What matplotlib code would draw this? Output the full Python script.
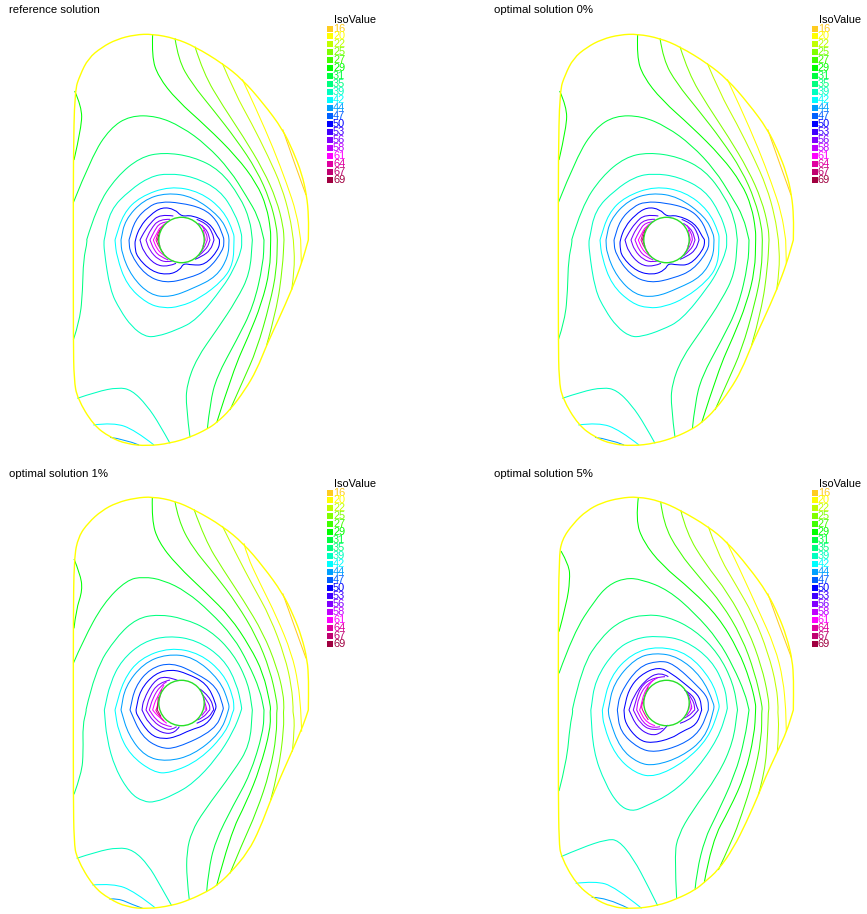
# Four panels of iso-value contours
import matplotlib
matplotlib.use('Agg')
from matplotlib import pyplot as plt
from matplotlib.patches import Circle, PathPatch, Rectangle
from matplotlib.path import Path

plt.rcParams['font.family'] = ['Liberation Sans', 'DejaVu Sans']

levels = [16, 20, 22, 25, 27, 29, 31, 35, 39, 42, 44, 47, 50, 53, 56, 58, 61, 64, 67, 69]
colors = ['#ffcc20', '#ffff00', '#c0ff00', '#80ff00', '#40ff00', '#00ff00', '#00ff40',
          '#00ff80', '#00ffc0', '#00ffff', '#00a0ff', '#0060ff', '#0000ff', '#4000ff',
          '#8000ff', '#c000ff', '#ff00ff', '#e000a0', '#c00070', '#a00040']
titles = ['reference solution', 'optimal solution 0%', 'optimal solution 1%', 'optimal solution 5%']

# contours are (level, upper part, lower part), values are in thirds of a pixel
# measured from the corner of the upper and lower crop of each panel
ref_boundary = ([(40,660),(40,420),(44,213),(60,165),(85,115),(125,82),(170,58),(225,44),(278,42),(345,55),(405,80),(487,130),(547,178),(610,250),(668,328),(700,395),(725,460),(740,525),(746,590),(745,660)],
                [(745,30),(725,100),(695,180),(655,270),(620,345),(590,420),(555,480),(510,540),(470,578),(442,597),(390,622),(330,640),(262,648),(200,642),(150,622),(100,585),(52,505),(42,450),(40,330),(40,30)])
ref_open = [
    (16, [(668,328),(700,420),(738,525)], []),
    (20, [(547,178),(590,270),(640,385),(680,490),(710,580),(722,660)], [(722,30),(724,100)]),
    (22, [(487,130),(525,220),(575,310),(625,410),(665,500),(690,590),(700,660)], [(700,30),(705,110),(695,180)]),
    (25, [(405,80),(430,160),(490,260),(550,350),(610,450),(650,540),(670,620),(672,660)], [(672,30),(668,110),(650,240),(620,345)]),
    (27, [(345,55),(355,120),(395,190),(460,270),(530,360),(590,450),(630,540),(650,620),(652,660)], [(652,30),(650,120),(630,220),(590,360),(550,450),(510,540)]),
    (29, [(278,42),(275,110),(295,170),(350,240),(440,320),(530,410),(590,490),(620,560),(632,630),(632,660)], [(632,30),(630,120),(605,220),(565,320),(520,420),(470,578)]),
    (29, [(44,213),(65,260),(65,320),(42,420)], []),
    (31, [(40,548),(95,410),(150,325),(210,287),(290,288),(365,320),(440,375),(510,450),(560,530),(595,590),(612,660)], [(612,30),(610,100),(580,230),(530,330),(470,440),(450,520),(442,597)]),
    (35, [(80,660),(110,560),(170,470),(240,412),(310,397),(400,410),(480,450),(540,530),(570,600),(577,660)], [(577,30),(570,130),(530,210),(470,300),(410,385),(380,465),(378,530),(390,622)]),
    (35, [(80,660)], [(83,30),(70,90),(68,180),(60,270),(40,330)]),
    (39, [], [(52,505),(110,485),(175,472),(215,480),(260,525),(300,585),(330,640)]),
    (42, [], [(100,585),(160,577),(225,600),(282,645)]),
    (44, [], [(150,622),(195,628),(237,645)]),
    (53, [(340,588),(300,582),(270,610),(250,640),(240,660)], [(240,30),(250,65),(285,105),(325,110),(348,100)]),
    (56, [(330,598),(298,597),(272,628),(258,660)], [(258,30),(268,60),(295,90),(325,97),(340,92)]),
    (58, [(325,605),(300,607),(282,635),(270,660)], [(270,30),(282,60),(300,80),(325,90)]),
    (61, [(318,610),(302,618),(288,645),(280,660)], [(280,30),(290,55),(305,72),(320,82)]),
    (64, [(310,618),(297,630),(288,660)], [(288,30),(296,50),(310,70)]),
    (67, [(300,630),(293,660)], [(293,30),(300,50)]),
    (69, [(296,645),(294,660)], []),
    (53, [(410,598),(440,610),(458,640),(462,660)], [(462,30),(452,60),(425,80),(405,88)]),
    (56, [(415,610),(440,625),(450,660)], [(450,30),(440,58),(415,78)]),
    (58, [(425,615),(440,640),(442,660)], [(442,30),(432,55),(420,70)]),
    (61, [(430,630),(436,660)], [(436,30),(428,50)]),
]
ref_closed = [
    (39, [(133,660),(150,570),(210,510),(270,470),(325,460),(400,470),(480,510),(525,580),(545,640),(545,660)], [(545,30),(545,60),(520,120),(490,170),(410,270),(350,300),(290,320),(255,320),(215,290),(180,240),(150,180),(132,60),(132,30)]),
    (42, [(165,660),(190,580),(240,530),(330,498),(420,515),(490,570),(522,640),(522,660)], [(522,30),(520,100),(490,150),(420,205),(360,230),(310,235),(260,220),(200,165),(170,80),(165,30)]),
    (44, [(183,660),(195,600),(250,540),(320,518),(400,530),(480,590),(505,640),(507,660)], [(507,30),(505,80),(470,140),(400,175),(330,202),(270,195),(215,140),(185,70),(183,30)]),
    (47, [(207,660),(225,600),(265,560),(300,545),(360,548),(430,565),(470,600),(490,650)], [(492,30),(490,60),(445,120),(385,145),(315,160),(255,135),(210,70),(207,30)]),
    (50, [(225,660),(240,620),(270,585),(306,561),(345,568),(365,590),(395,585),(450,609),(474,654)], [(480,30),(475,60),(435,105),(395,105),(370,100),(360,120),(325,135),(275,125),(230,80),(225,50)]),
]

one_boundary = ([(40,660),(40,400),(42,205),(55,140),(85,98),(125,62),(170,38),(225,24),(278,20),(345,33),(405,60),(487,108),(550,160),(610,230),(668,310),(700,375),(725,440),(742,510),(746,570),(745,660)],
                [(745,45),(730,90),(700,160),(660,250),(630,320),(600,400),(565,470),(510,535),(470,572),(440,590),(388,615),(335,632),(262,642),(200,636),(148,612),(100,575),(50,490),(42,440),(40,300),(40,45)])
one_open = [
    (16, [(668,310),(700,400),(738,505)], []),
    (20, [(552,160),(560,195),(600,280),(650,380),(695,490),(715,580),(722,660)], [(722,45),(725,110)]),
    (22, [(487,108),(530,195),(580,290),(630,380),(675,500),(695,590),(700,660)], [(698,45),(705,90),(697,170)]),
    (25, [(402,58),(435,150),(490,240),(550,330),(610,430),(650,530),(670,610),(672,660)], [(670,45),(672,100),(655,230),(632,315)]),
    (27, [(345,35),(355,90),(395,170),(470,260),(530,340),(590,440),(630,540),(650,630),(652,660)], [(650,45),(650,120),(630,230),(590,350),(545,450),(510,535)]),
    (29, [(277,22),(275,90),(295,155),(350,225),(440,310),(510,380),(570,470),(610,550),(630,640),(632,660)], [(630,45),(632,100),(600,220),(560,320),(510,420),(470,572)]),
    (29, [(42,207),(60,250),(68,300),(48,360),(42,415)], []),
    (31, [(40,520),(70,450),(130,340),(200,270),(250,260),(310,270),(380,305),(450,365),(520,440),(565,520),(600,600),(612,660)], [(612,45),(610,110),(570,240),(520,330),(465,440),(445,530),(440,590)]),
    (35, [(78,660),(105,540),(170,440),(230,385),(295,373),(370,385),(450,420),(520,490),(565,580),(577,660)], [(577,45),(570,150),(520,230),(430,350),(395,410),(380,470),(380,550),(388,615)]),
    (35, [(78,660)], [(80,45),(68,90),(70,170),(65,235),(42,298)]),
    (39, [], [(50,490),(110,470),(175,457),(220,465),(265,510),(300,570),(335,632)]),
    (42, [], [(97,570),(160,565),(225,590),(285,638)]),
    (44, [], [(148,612),(175,610),(215,628),(248,640)]),
    (53, [(355,572),(315,556),(280,575),(250,630),(246,660)], [(246,45),(265,85),(305,115),(345,115),(358,95)]),
    (56, [(330,570),(295,578),(268,620),(258,660)], [(258,45),(280,80),(310,100),(335,105),(350,95)]),
    (58, [(320,575),(300,588),(278,625),(268,660)], [(268,45),(288,75),(315,92),(335,95)]),
    (61, [(312,585),(288,625),(278,660)], [(278,45),(295,65),(320,85)]),
    (64, [(305,598),(290,660)], [(286,45),(300,65),(312,78)]),
    (67, [(295,620),(292,660)], [(292,45),(303,65)]),
    (53, [(420,597),(450,620),(462,660)], [(460,45),(445,70),(410,85)]),
    (56, [(425,610),(448,640),(450,660)], [(448,45),(430,68),(412,75)]),
    (58, [(430,622),(442,660)], [(438,45),(425,62)]),
    (61, [(433,640),(436,660)], []),
]
one_closed = [
    (39, [(133,660),(150,580),(185,510),(250,455),(325,437),(410,450),(490,505),(530,580),(545,650)], [(545,45),(520,110),(470,190),(400,265),(340,300),(285,322),(250,320),(210,295),(165,220),(140,130),(133,45)]),
    (42, [(165,660),(190,570),(240,505),(330,472),(420,490),(490,550),(520,620),(522,660)], [(520,45),(500,110),(420,195),(330,235),(280,232),(210,180),(175,110),(165,45)]),
    (44, [(183,660),(195,590),(250,520),(320,492),(400,500),(480,570),(507,640)], [(507,45),(480,115),(400,180),(320,200),(255,185),(205,120),(183,45)]),
    (47, [(210,660),(225,590),(270,535),(335,517),(410,550),(470,590),(490,650)], [(490,45),(465,105),(350,160),(300,160),(245,125),(210,45)]),
    (50, [(228,660),(240,600),(285,550),(335,538),(380,550),(440,580),(468,640)], [(468,45),(440,90),(390,105),(350,125),(310,133),(270,120),(230,60),(228,45)]),
]

five_boundary = ([(40,660),(40,425),(42,205),(50,150),(85,100),(125,62),(170,38),(225,24),(278,20),(345,33),(405,60),(490,110),(545,155),(610,230),(668,310),(700,375),(725,440),(742,510),(746,570),(745,660)],
                 [(745,45),(725,110),(697,170),(660,250),(640,300),(605,380),(565,460),(520,525),(478,562),(450,585),(395,612),(338,632),(262,642),(200,636),(145,610),(92,565),(48,485),(42,440),(40,290),(40,45)])
five_open = [
    (16, [(668,310),(700,400),(740,505)], []),
    (20, [(545,155),(590,250),(640,360),(690,470),(715,570),(722,660)], [(722,45),(724,110)]),
    (22, [(490,110),(520,195),(570,280),(625,375),(670,490),(695,590),(700,660)], [(698,45),(702,100),(697,170)]),
    (25, [(407,60),(425,130),(480,220),(550,310),(610,420),(650,530),(670,620),(672,660)], [(670,45),(668,120),(660,230),(640,300)]),
    (27, [(347,35),(355,100),(400,185),(470,270),(530,340),(590,440),(630,550),(650,640),(652,660)], [(650,45),(650,130),(625,250),(590,360),(560,440),(520,525)]),
    (29, [(280,22),(272,90),(295,155),(350,225),(440,300),(520,380),(580,480),(615,570),(632,640)], [(632,45),(628,120),(600,240),(555,340),(500,440),(478,562)]),
    (29, [(48,183),(72,225),(75,270),(65,340),(42,425)], []),
    (31, [(42,550),(85,430),(150,330),(190,285),(240,264),(290,268),(370,300),(450,370),(520,450),(565,530),(600,610),(612,660)], [(612,45),(600,130),(570,240),(510,370),(480,430),(455,530),(450,585)]),
    (35, [(82,660),(110,530),(170,440),(230,390),(300,373),(370,380),(450,420),(520,490),(565,580),(578,660)], [(577,45),(565,140),(520,240),(440,350),(400,420),(388,480),(395,612)]),
    (35, [(82,660)], [(85,45),(75,90),(65,200),(42,288)]),
    (39, [], [(48,485),(110,458),(185,433),(220,435),(265,490),(310,575),(338,632)]),
    (42, [], [(92,565),(150,558),(210,575),(290,640)]),
    (44, [], [(140,607),(185,607),(250,640)]),
    (53, [(370,560),(345,545),(300,570),(265,620),(252,660)], [(252,45),(275,95),(315,122),(350,115),(368,90)]),
    (56, [(360,560),(325,562),(285,590),(265,660)], [(265,45),(285,85),(320,108),(355,100)]),
    (58, [(340,562),(305,580),(280,625),(275,660)], [(275,45),(295,85),(325,100),(345,95)]),
    (61, [(325,570),(300,595),(285,660)], [(283,45),(305,85),(330,92)]),
    (64, [(310,590),(290,640)], [(290,45),(310,75)]),
    (53, [(418,600),(445,615),(455,650),(460,660)], [(460,45),(435,75),(405,85)]),
    (56, [(425,605),(445,630),(450,660)], [(448,45),(430,65),(415,70)]),
    (58, [(430,615),(442,650)], [(438,45),(425,62)]),
    (61, [(433,640),(436,660)], []),
]
five_closed = [
    (39, [(138,660),(150,570),(210,480),(270,445),(340,437),(420,450),(500,510),(540,590),(547,650)], [(547,45),(520,130),(450,230),(380,295),(300,335),(260,350),(220,330),(180,265),(145,170),(137,45)]),
    (42, [(172,660),(195,560),(260,490),(340,468),(430,490),(500,570),(523,640)], [(522,45),(490,130),(420,200),(330,247),(270,235),(210,180),(175,90),(172,45)]),
    (44, [(190,660),(205,580),(270,505),(330,488),(400,500),(470,560),(507,640)], [(507,45),(480,130),(410,185),(330,212),(280,205),(225,160),(192,70),(190,45)]),
    (47, [(217,660),(225,610),(280,530),(340,512),(385,520),(460,590),(490,625),(490,660)], [(490,45),(465,110),(410,150),(330,173),(280,160),(225,110),(217,45)]),
    (50, [(237,660),(250,600),(285,555),(340,530),(380,550),(430,590),(465,620),(470,660)], [(470,45),(455,90),(410,110),(380,130),(320,145),(280,135),(240,85),(237,45)]),
]

# the lower crops overlap the upper ones, so each panel has its own corners
upper_corner = [(60, 20), (545, 20), (60, 490), (545, 490)]
lower_corner = [(60, 230), (545, 230), (60, 695), (545, 695)]
panel_data = [(ref_boundary, ref_open, ref_closed), (ref_boundary, ref_open, ref_closed),
              (one_boundary, one_open, one_closed), (five_boundary, five_open, five_closed)]
hole_centers = [(181.5, 240), (666.5, 240), (181.5, 703), (666.5, 703)]
hole_radius = 22.7
title_y = [10, 10, 474, 474]
title_x = [9, 494, 9, 494]


def trace(part_up, part_low, up, low):
    pts = [(up[0] + p[0] / 3, up[1] + p[1] / 3) for p in part_up]
    pts += [(low[0] + p[0] / 3, low[1] + p[1] / 3) for p in part_low]
    return pts


# the read points are used as control points of quadratic curves
def curve(ax, pts, color, lw, closed=False):
    mid = [((a[0] + b[0]) / 2, (a[1] + b[1]) / 2) for a, b in zip(pts[:-1], pts[1:])]
    if closed:
        start = ((pts[-1][0] + pts[0][0]) / 2, (pts[-1][1] + pts[0][1]) / 2)
        verts = [start]
        codes = [Path.MOVETO]
        for p, m in zip(pts, mid + [start]):
            verts += [p, m]
            codes += [Path.CURVE3, Path.CURVE3]
    elif len(pts) == 2:
        verts = pts
        codes = [Path.MOVETO, Path.LINETO]
    else:
        verts = [pts[0]]
        codes = [Path.MOVETO]
        for p, m in zip(pts[1:-1], mid[1:-1] + [pts[-1]]):
            verts += [p, m]
            codes += [Path.CURVE3, Path.CURVE3]
    ax.add_patch(PathPatch(Path(verts, codes), fill=False, ec=color, lw=lw))


fig = plt.figure(figsize=(8.67, 9.14), dpi=100)
ax = fig.add_axes([0, 0, 1, 1])
ax.set_xlim(0, 867)
ax.set_ylim(914, 0)
ax.axis('off')

for i in range(4):
    boundary, open_lines, closed_lines = panel_data[i]
    up = upper_corner[i]
    low = lower_corner[i]
    for level, part_up, part_low in open_lines:
        curve(ax, trace(part_up, part_low, up, low), colors[levels.index(level)], 0.75)
    for level, part_up, part_low in closed_lines:
        curve(ax, trace(part_up, part_low, up, low), colors[levels.index(level)], 0.75, closed=True)
    curve(ax, trace(boundary[0], boundary[1], up, low), '#ffff00', 1.0, closed=True)
    ax.add_patch(Circle(hole_centers[i], hole_radius, fill=False, ec='#28e028', lw=1.0))

    # title and legend
    ax.text(title_x[i], title_y[i], titles[i], fontsize=8.2, va='center', ha='left', color='black')
    lx = title_x[i] + 324
    ly = title_y[i] + 10
    ax.text(lx + 1, ly, 'IsoValue', fontsize=7.9, va='center', ha='left', color='black')
    for n in range(len(levels)):
        y = ly + 8.5 + n * 7.95
        ax.add_patch(Rectangle((lx - 6, y - 3), 6, 6, fc=colors[n], ec='none'))
        ax.text(lx, y, str(levels[n]), fontsize=7.9, va='center', ha='left', color=colors[n])

fig.savefig('out.png', dpi=100)
